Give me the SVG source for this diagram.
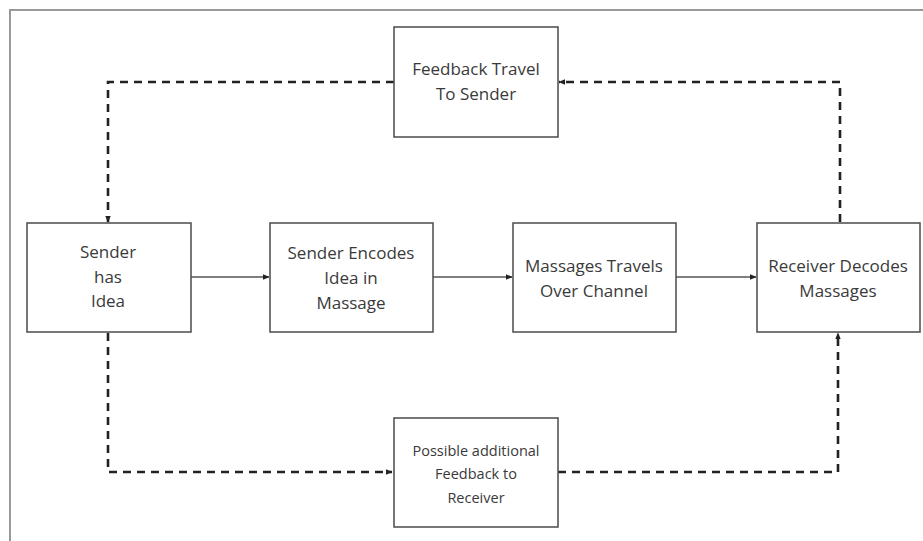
<svg xmlns="http://www.w3.org/2000/svg" width="923" height="541" viewBox="0 0 923 541">
<style>
.box{fill:#fff;stroke:#555;stroke-width:1.6}
.t{font-family:"Open Sans","Noto Sans",sans-serif;font-size:17px;fill:#3a3a3a;text-anchor:middle;dominant-baseline:central}
.ts{font-family:"Open Sans","Noto Sans",sans-serif;font-size:14.5px;fill:#3a3a3a;text-anchor:middle;dominant-baseline:central}
.solid{fill:none;stroke:#555;stroke-width:1.4}
.dash{fill:none;stroke:#222;stroke-width:2.6;stroke-dasharray:8,6}
</style>
<defs>
<marker id="ah" viewBox="0 0 10 10" refX="9" refY="5" markerWidth="7" markerHeight="7" orient="auto" markerUnits="userSpaceOnUse">
<path d="M0,1 L10,5 L0,9 z" fill="#222"/>
</marker>
</defs>
<rect x="10" y="10" width="930" height="560" fill="none" stroke="#999" stroke-width="2"/>
<g id="connectors">
<line class="solid" x1="191" y1="277" x2="269" y2="277" marker-end="url(#ah)"/>
<line class="solid" x1="433" y1="277" x2="512" y2="277" marker-end="url(#ah)"/>
<line class="solid" x1="676" y1="277" x2="756" y2="277" marker-end="url(#ah)"/>
<polyline class="dash" points="394,82 108,82 108,222" marker-end="url(#ah)"/>
<polyline class="dash" points="840,222 840,82 559,82" marker-end="url(#ah)"/>
<polyline class="dash" points="108,333 108,472 392,472" marker-end="url(#ah)"/>
<polyline class="dash" points="558,472 838,472 838,333" marker-end="url(#ah)"/>
</g>
<g id="feedback">
<rect class="box" x="394" y="27" width="164" height="110"/>
<text class="t" x="476" y="68">Feedback Travel</text>
<text class="t" x="476" y="93">To Sender</text>
</g>
<g id="sender">
<rect class="box" x="27" y="223" width="164" height="109"/>
<text class="t" x="108" y="251">Sender</text>
<text class="t" x="108" y="276">has</text>
<text class="t" x="108" y="300">Idea</text>
</g>
<g id="encode">
<rect class="box" x="270" y="223" width="163" height="109"/>
<text class="t" x="351" y="252">Sender Encodes</text>
<text class="t" x="351" y="277">Idea in</text>
<text class="t" x="351" y="302">Massage</text>
</g>
<g id="channel">
<rect class="box" x="513" y="223" width="163" height="109"/>
<text class="t" x="594" y="265">Massages Travels</text>
<text class="t" x="594" y="290">Over Channel</text>
</g>
<g id="receiver">
<rect class="box" x="757" y="223" width="163" height="109"/>
<text class="t" x="838" y="265">Receiver Decodes</text>
<text class="t" x="838" y="290">Massages</text>
</g>
<g id="possible">
<rect class="box" x="394" y="418" width="164" height="109"/>
<text class="ts" x="476" y="450">Possible additional</text>
<text class="ts" x="476" y="473">Feedback to</text>
<text class="ts" x="476" y="497">Receiver</text>
</g>
</svg>
